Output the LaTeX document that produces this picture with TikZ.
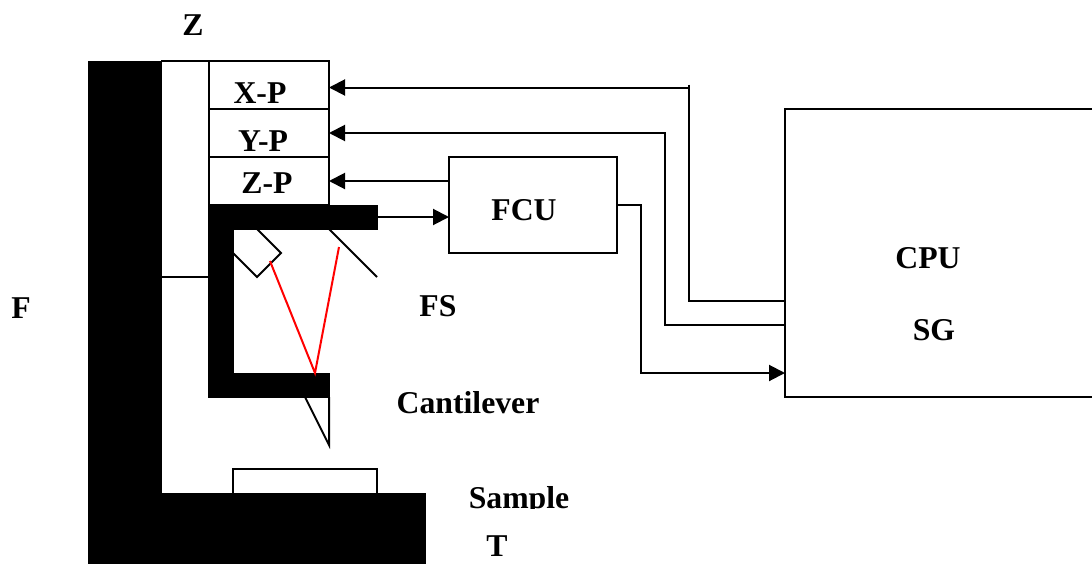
\documentclass[tikz,border=0pt]{standalone}
\usepackage{fontspec}
\setmainfont{Liberation Serif}
\usetikzlibrary{arrows.meta}
\tikzset{
  wire/.style={draw=black,line width=1.5pt,line join=miter},
  flow/.style={wire,-{Triangle[length=12pt,width=12pt]}},
  boxn/.style={draw=black,line width=1.5pt,fill=white,inner sep=0pt,outer sep=0pt,anchor=north west},
  solid block/.style={fill=black,draw=none,inner sep=0pt,outer sep=0pt,anchor=north west},
  beam/.style={draw=red,line width=1.5pt},
  lab/.style={font=\fontsize{23.8}{28}\selectfont\bfseries,anchor=base,inner sep=0pt,text=black}
}
\newcommand{\rbox}[6]{\node[#1,minimum width=#4*0.75pt,minimum height=#5*0.75pt] (#6) at (#2,#3) {};}
\begin{document}
\begin{tikzpicture}[x=0.75pt,y=-0.75pt]
\useasboundingbox (0,0) rectangle (1092,564);
\clip (0,0) rectangle (1092,564);
% coordinates
\coordinate (armTopL) at (161,61);
\coordinate (armTopR) at (209,61);
\coordinate (armMidL) at (161,277);
\coordinate (armMidR) at (209,277);
% stacked boxes
\rbox{boxn}{209}{61}{120}{48}{xp}
\rbox{boxn}{209}{109}{120}{48}{yp}
\rbox{boxn}{209}{157}{120}{48}{zp}
\rbox{boxn}{449}{157}{168}{96}{fcu}
\rbox{boxn}{785}{109}{340}{288}{cpu}
\rbox{boxn}{233}{469}{144}{30}{sample}
% black frame
\rbox{solid block}{88}{60.5}{74}{503.5}{column}
\rbox{solid block}{88}{492.5}{338}{71.5}{base}
\rbox{solid block}{208}{204.5}{170}{25}{arm}
\rbox{solid block}{208}{204.5}{26}{193}{holder}
\rbox{solid block}{208}{372.5}{122}{25}{lever}
% frame to stack
\draw[wire] (armTopL) -- (armTopR);
\draw[wire] (armMidL) -- (armMidR);
% laser, mirror, tip
\coordinate (la) at (257,229);
\coordinate (lb) at (281,253);
\coordinate (lc) at (257,277);
\coordinate (ld) at (233,253);
\draw[wire] (la) -- (lb) -- (lc) -- (ld);
\coordinate (ma) at (329,229);
\coordinate (mb) at (377,277);
\draw[wire] (ma) -- (mb);
\coordinate (ta) at (305,397);
\coordinate (tb) at (329,445);
\coordinate (tc) at (329,397);
\draw[wire] (ta) -- (tb) -- (tc);
% beam
\coordinate (ra) at (270,261);
\coordinate (rb) at (315,373);
\coordinate (rc) at (339,247);
\draw[beam] (ra) -- (rb) -- (rc);
% connectors
\coordinate (xIn) at (329,87.5);
\coordinate (xCorner) at (689,87.5);
\coordinate (xTop) at (689,84.5);
\coordinate (xLow) at (689,301);
\coordinate (xOut) at (785,301);
\draw[wire] (xTop) -- (xLow) -- (xOut);
\draw[flow] (xCorner) -- (xIn);
\coordinate (yIn) at (329,133);
\coordinate (yCorner) at (665,133);
\coordinate (yLow) at (665,325);
\coordinate (yOut) at (785,325);
\draw[flow] (yOut) -- (yLow) -- (yCorner) -- (yIn);
\coordinate (zIn) at (329,181);
\coordinate (zOut) at (449,181);
\draw[flow] (zOut) -- (zIn);
\coordinate (aOut) at (378,217);
\coordinate (aIn) at (449,217);
\draw[flow] (aOut) -- (aIn);
\coordinate (fOut) at (617,205);
\coordinate (fa) at (641,205);
\coordinate (fb) at (641,373);
\coordinate (fIn) at (785,373);
\draw[flow] (fOut) -- (fa) -- (fb) -- (fIn);
% labels
\node[lab] (lz) at (193,35) {Z};
\node[lab] (lf) at (21,318) {F};
\node[lab] (lx) at (260,103) {X-P};
\node[lab] (ly) at (263,151) {Y-P};
\node[lab] (lzp) at (267,193) {Z-P};
\node[lab] (lfcu) at (524,220) {FCU};
\node[lab] (lcpu) at (928,268) {CPU};
\node[lab] (lsg) at (934,340) {SG};
\node[lab] (lfs) at (438,316) {FS};
\node[lab] (lcant) at (468,413) {Cantilever};
\begin{scope}
\clip (440,470) rectangle (600,508);
\node[lab] (lsample) at (519,508) {Sample};
\end{scope}
\node[lab] (lt) at (497,556) {T};
\end{tikzpicture}
\end{document}
